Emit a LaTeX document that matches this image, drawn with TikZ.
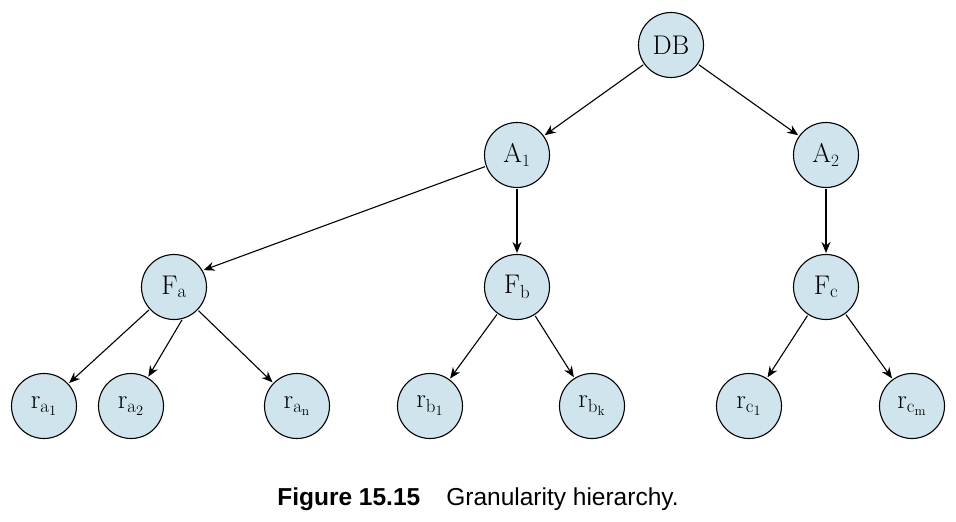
\documentclass[tikz,border=0pt]{standalone}
\usepackage{fontspec}
\newfontfamily\capfont{Liberation Sans}
\usetikzlibrary{arrows.meta}
\definecolor{nodefill}{RGB}{208,228,238}
\begin{document}
\begin{tikzpicture}[x=1pt,y=-1pt,
  gnode/.style={circle,draw=black,line width=1.1pt,fill=nodefill,minimum size=65pt,inner sep=0pt,font=\fontsize{27}{30}\selectfont},
  edge/.style={line width=1.1pt,-{Stealth[length=11pt,width=9pt]},shorten <=1pt,shorten >=1pt}]
\useasboundingbox (0,0) rectangle (956,522);
\node[gnode] (DB) at (671,45) {DB};
\node[gnode] (A1) at (517,155) {$\mathrm{A}_1$};
\node[gnode] (A2) at (826,155) {$\mathrm{A}_2$};
\node[gnode] (Fa) at (174,287) {$\mathrm{F}_{\mathrm{a}}$};
\node[gnode] (Fb) at (517,287) {$\mathrm{F}_{\mathrm{b}}$};
\node[gnode] (Fc) at (826,287) {$\mathrm{F}_{\mathrm{c}}$};
\node[gnode] (ra1) at (44,406) {$\mathrm{r}_{\mathrm{a}_1}$};
\node[gnode] (ra2) at (131,406) {$\mathrm{r}_{\mathrm{a}_2}$};
\node[gnode] (ran) at (297,406) {$\mathrm{r}_{\mathrm{a}_\mathrm{n}}$};
\node[gnode] (rb1) at (430,406) {$\mathrm{r}_{\mathrm{b}_1}$};
\node[gnode] (rbk) at (592,406) {$\mathrm{r}_{\mathrm{b}_\mathrm{k}}$};
\node[gnode] (rc1) at (749,406) {$\mathrm{r}_{\mathrm{c}_1}$};
\node[gnode] (rcm) at (912,406) {$\mathrm{r}_{\mathrm{c}_\mathrm{m}}$};
\draw[edge] (DB) -- (A1);
\draw[edge] (DB) -- (A2);
\draw[edge] (A1.200) -- (Fa.30);
\draw[edge] (A1) -- (Fb);
\draw[edge] (A2) -- (Fc);
\draw[edge] (Fa) -- (ra1);
\draw[edge] (Fa.-75) -- (ra2);
\draw[edge] (Fa) -- (ran);
\draw[edge] (Fb) -- (rb1);
\draw[edge] (Fb) -- (rbk);
\draw[edge] (Fc) -- (rc1);
\draw[edge] (Fc) -- (rcm);
\node[anchor=base,font=\capfont\fontsize{24.5}{28}\selectfont] (cap) at (478,505) {\textbf{Figure 15.15}\hspace{26pt}Granularity hierarchy.};
\end{tikzpicture}
\end{document}
